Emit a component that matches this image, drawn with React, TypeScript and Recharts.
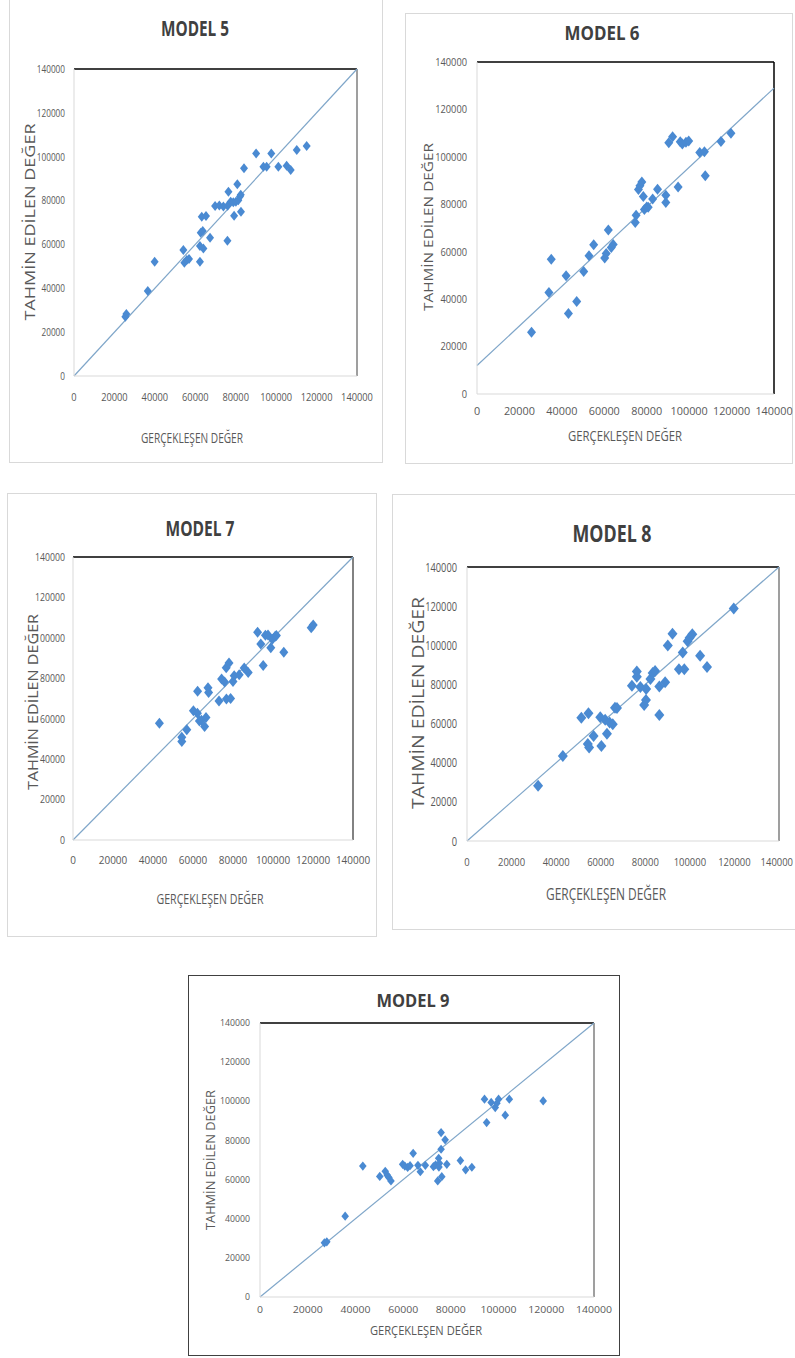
import React from "react";
import { ScatterChart, Scatter, XAxis, YAxis, ReferenceLine } from "recharts";

const TICKS = [0, 20000, 40000, 60000, 80000, 100000, 120000, 140000];
const X_TITLE = "GERÇEKLEŞEN DEĞER";
const Y_TITLE = "TAHMİN EDİLEN DEĞER";
const PAGE_W = 795;

const M5_ACTUAL = [25400, 25900, 36500, 39900, 54100, 54600, 55800, 56900, 62300, 62300, 64000, 62700, 63700, 63200, 65300, 67300, 75900, 69800, 71900, 73900, 76000, 76400, 77500, 78800, 80100, 81300, 82100, 82500, 80800, 79200, 82600, 84100, 90100, 93700, 95300, 97600, 101100, 105200, 107200, 110200, 115100];
const M5_PRED = [27000, 28300, 38800, 52100, 57500, 51700, 52900, 53400, 52100, 59300, 58200, 65300, 66100, 72600, 73000, 63100, 61700, 77500, 77800, 77300, 77600, 84000, 79500, 79200, 79500, 80200, 81800, 82700, 87500, 73100, 74900, 94700, 101500, 95400, 95400, 101500, 95400, 95900, 93900, 103100, 104900];

const M6_ACTUAL = [25700, 33900, 35000, 42000, 43100, 47000, 50300, 52800, 55000, 60200, 60900, 61900, 63300, 64200, 74600, 75000, 76100, 76800, 77700, 78400, 78900, 80000, 80700, 82800, 85100, 89000, 89000, 90400, 92200, 94800, 95800, 96800, 98500, 99800, 105000, 107200, 107600, 115000, 119700];
const M6_PRED = [26000, 42800, 56800, 49900, 33900, 39000, 51700, 58300, 62900, 57300, 59200, 69200, 61800, 63000, 72300, 75400, 86200, 87800, 89400, 83300, 77800, 78900, 78800, 82200, 86300, 83800, 80800, 106000, 108500, 87300, 106400, 105400, 106200, 106700, 101800, 102200, 92000, 106500, 110000];

const M7_ACTUAL = [43200, 54400, 54400, 56900, 60200, 62200, 62300, 63200, 64200, 65800, 66500, 67500, 67800, 73000, 74300, 75800, 76700, 76600, 78000, 78800, 80000, 80600, 83100, 85600, 87600, 92300, 93900, 95100, 96200, 97500, 98900, 99700, 101100, 101700, 105400, 119100, 120100];
const M7_PRED = [57800, 50800, 48700, 54500, 63900, 62700, 73600, 58900, 59300, 56100, 60600, 75300, 73000, 68800, 79700, 78200, 69700, 85200, 87600, 70000, 78400, 81300, 81700, 85100, 82900, 102800, 96900, 86300, 101300, 101400, 95100, 99300, 100800, 101200, 92900, 105000, 106300];

const M8_ACTUAL = [31900, 43000, 51300, 54500, 54200, 54800, 56800, 59800, 60300, 62000, 62800, 64000, 65400, 66400, 67300, 74000, 76200, 76200, 77800, 79500, 80300, 80400, 82300, 83300, 84400, 86300, 86300, 88900, 90100, 92200, 95100, 96800, 97500, 99000, 99900, 101100, 104600, 107700, 119700];
const M8_PRED = [28200, 43400, 63000, 65300, 49600, 47800, 53700, 63200, 48600, 61900, 54800, 60600, 59600, 68100, 67900, 79300, 83900, 86600, 78700, 69500, 72000, 77700, 82800, 85900, 86800, 78900, 64400, 81100, 99900, 105900, 87700, 96300, 87700, 102000, 103900, 105600, 94600, 88900, 118800];

const M9_ACTUAL = [27000, 28000, 35700, 43100, 50200, 52500, 53300, 54000, 54900, 59800, 60700, 61900, 62900, 64200, 66200, 67200, 69300, 72700, 73600, 74500, 74900, 75200, 75000, 75900, 75900, 76200, 77600, 78300, 84000, 86200, 88800, 94100, 95000, 96900, 98600, 99300, 100000, 102800, 104500, 118700];
const M9_PRED = [27700, 28200, 41300, 66900, 61600, 64200, 62300, 61100, 59300, 67800, 66900, 66200, 67100, 73400, 67300, 64000, 67300, 66600, 67500, 59300, 70900, 68300, 66400, 84000, 75500, 61500, 80300, 67800, 69700, 65000, 66300, 101100, 89100, 99400, 96800, 99000, 101100, 92900, 101100, 100200];

// fitted line ends at x = 0 and x = 140000
const FIT_IDENTITY = [0, 140000];
const FIT_6 = [12000, 129000];

type Panel = {
  title: string;
  actual: number[];
  pred: number[];
  fit: number[];
  box: { x: number; y: number; w: number; h: number; stroke: string };
  plot: { l: number; t: number; r: number; b: number };
  tick: { fs: number; xfs: number; xcw: number; ycw: number; yGap: number; xOff: number };
  head: { x: number; y: number; w: number; fs: number };
  xT: { x: number; y: number; w: number; fs: number };
  yT: { x: number; y: number; w: number; fs: number };
  rightStroke: string;
  mk: { hw: number; hh: number };
};

const PANELS: Panel[] = [
  {
    title: "MODEL 5", actual: M5_ACTUAL, pred: M5_PRED, fit: FIT_IDENTITY,
    box: { x: 9, y: -2, w: 374, h: 465, stroke: "#d9d9d9" },
    plot: { l: 74, t: 69, r: 357, b: 376 },
    tick: { fs: 11, xfs: 11, xcw: 5.3, ycw: 4.7, yGap: 9, xOff: 17 },
    head: { x: 195, y: 27, w: 68, fs: 22 },
    xT: { x: 192, y: 437, w: 102, fs: 15 },
    yT: { x: 29, y: 222, w: 197, fs: 14 },
    rightStroke: "#7f7f7f", mk: { hw: 4, hh: 5 },
  },
  {
    title: "MODEL 6", actual: M6_ACTUAL, pred: M6_PRED, fit: FIT_6,
    box: { x: 405, y: 13, w: 388, h: 451, stroke: "#d9d9d9" },
    plot: { l: 477, t: 62, r: 774, b: 394 },
    tick: { fs: 11, xfs: 11, xcw: 6.2, ycw: 5.3, yGap: 10, xOff: 13 },
    head: { x: 602, y: 32, w: 75, fs: 20 },
    xT: { x: 625, y: 435, w: 114, fs: 15 },
    yT: { x: 428, y: 227, w: 168, fs: 13 },
    rightStroke: "#000", mk: { hw: 4.5, hh: 5.5 },
  },
  {
    title: "MODEL 7", actual: M7_ACTUAL, pred: M7_PRED, fit: FIT_IDENTITY,
    box: { x: 7, y: 493, w: 370, h: 444, stroke: "#d9d9d9" },
    plot: { l: 73, t: 557, r: 353, b: 840 },
    tick: { fs: 11, xfs: 11, xcw: 5.7, ycw: 5, yGap: 8, xOff: 16 },
    head: { x: 200, y: 528, w: 69, fs: 21 },
    xT: { x: 210, y: 898, w: 107, fs: 15 },
    yT: { x: 32, y: 702, w: 176, fs: 14 },
    rightStroke: "#595959", mk: { hw: 4.5, hh: 5.5 },
  },
  {
    title: "MODEL 8", actual: M8_ACTUAL, pred: M8_PRED, fit: FIT_IDENTITY,
    box: { x: 392, y: 494, w: 410, h: 436, stroke: "#d9d9d9" },
    plot: { l: 467, t: 567, r: 779, b: 841 },
    tick: { fs: 13, xfs: 11, xcw: 5.4, ycw: 5.3, yGap: 10, xOff: 17 },
    head: { x: 612, y: 532, w: 79, fs: 24 },
    xT: { x: 606, y: 893, w: 120, fs: 17 },
    yT: { x: 418, y: 703, w: 212, fs: 16 },
    rightStroke: "#7f7f7f", mk: { hw: 5, hh: 6 },
  },
  {
    title: "MODEL 9", actual: M9_ACTUAL, pred: M9_PRED, fit: FIT_IDENTITY,
    box: { x: 188, y: 975, w: 432, h: 381, stroke: "#404040" },
    plot: { l: 260, t: 1023, r: 594, b: 1297 },
    tick: { fs: 9, xfs: 9, xcw: 6, ycw: 5, yGap: 10, xOff: 10 },
    head: { x: 413, y: 1000, w: 73, fs: 17 },
    xT: { x: 426, y: 1330, w: 112, fs: 13 },
    yT: { x: 210, y: 1160, w: 140, fs: 12 },
    rightStroke: "#7f7f7f", mk: { hw: 3.8, hh: 4.6 },
  },
];

const FONT = "'Open Sans', 'DejaVu Sans', sans-serif";
const YW = 60;
const XH = 40;
const MT = 12;
const MR = 34;

function AxisTick(props: any) {
  const { x, y, payload, textAnchor, fs, cw, axis, maxRight } = props;
  const label = String(payload.value);
  const len = label.length * cw;
  // keep the last x label inside the page
  let tx = x;
  if (axis === "x" && maxRight != null && tx + len / 2 > maxRight) tx = maxRight - len / 2;
  return (
    <text
      x={tx}
      y={y}
      dy={axis === "x" ? "0.71em" : "0.35em"}
      textAnchor={textAnchor}
      fontSize={fs}
      fontFamily={FONT}
      fill="#595959"
      textLength={len}
      lengthAdjust="spacingAndGlyphs"
    >
      {label}
    </text>
  );
}

function Diamond(props: any) {
  const { cx, cy, hw, hh } = props;
  if (cx == null || cy == null) return null;
  return (
    <polygon
      points={`${cx},${cy - hh} ${cx + hw},${cy} ${cx},${cy + hh} ${cx - hw},${cy}`}
      fill="#4a8ad2"
    />
  );
}

function ModelChart({ p }: { p: Panel }) {
  const data = p.actual.map((a, i) => ({ x: a, y: p.pred[i] }));
  const left = p.plot.l - YW;
  const w = Math.min(p.plot.r - p.plot.l + YW + MR, PAGE_W - left);
  const h = p.plot.b - p.plot.t + MT + XH;
  const maxRight = PAGE_W - 2 - left;
  return (
    <div style={{ position: "absolute", left, top: p.plot.t - MT }}>
      <ScatterChart
        width={w}
        height={h}
        margin={{ top: MT, right: w - (p.plot.r - p.plot.l + YW), bottom: 0, left: 0 }}
      >
        <XAxis
          type="number"
          dataKey="x"
          domain={[0, 140000]}
          ticks={TICKS}
          interval={0}
          height={XH}
          axisLine={{ stroke: "#d9d9d9" }}
          tickLine={false}
          tickSize={0}
          tickMargin={p.tick.xOff}
          tick={(t: any) => (
            <AxisTick {...t} fs={p.tick.xfs} cw={p.tick.xcw} axis="x" maxRight={maxRight} />
          )}
        />
        <YAxis
          type="number"
          dataKey="y"
          domain={[0, 140000]}
          ticks={TICKS}
          interval={0}
          width={YW}
          axisLine={{ stroke: "#d9d9d9" }}
          tickLine={false}
          tickSize={0}
          tickMargin={p.tick.yGap}
          tick={(t: any) => <AxisTick {...t} fs={p.tick.fs} cw={p.tick.ycw} axis="y" />}
        />
        <ReferenceLine y={140000} stroke="#000" strokeWidth={1.5} ifOverflow="visible" />
        <ReferenceLine x={140000} stroke={p.rightStroke} strokeWidth={1.5} ifOverflow="visible" />
        <ReferenceLine
          segment={[
            { x: 0, y: p.fit[0] },
            { x: 140000, y: p.fit[1] },
          ]}
          stroke="#7fa6c9"
          strokeWidth={1.2}
          ifOverflow="visible"
        />
        <Scatter
          data={data}
          isAnimationActive={false}
          shape={(s: any) => <Diamond {...s} hw={p.mk.hw} hh={p.mk.hh} />}
        />
      </ScatterChart>
    </div>
  );
}

export default function App() {
  return (
    <div
      style={{
        position: "absolute",
        left: 0,
        top: 0,
        width: PAGE_W,
        height: 1358,
        background: "#fff",
        overflow: "hidden",
      }}
    >
      {PANELS.map((p) => (
        <div
          key={p.title + "-box"}
          style={{
            position: "absolute",
            left: p.box.x,
            top: p.box.y,
            width: p.box.w,
            height: p.box.h,
            border: `1px solid ${p.box.stroke}`,
            boxSizing: "border-box",
          }}
        />
      ))}
      {PANELS.map((p) => (
        <ModelChart key={p.title} p={p} />
      ))}
      <svg
        width={PAGE_W}
        height={1358}
        style={{ position: "absolute", left: 0, top: 0, pointerEvents: "none" }}
      >
        {PANELS.map((p) => (
          <g key={p.title + "-text"} fontFamily={FONT}>
            <text
              x={p.head.x}
              y={p.head.y}
              textAnchor="middle"
              dominantBaseline="central"
              fontSize={p.head.fs}
              fontWeight={700}
              fill="#404040"
              textLength={p.head.w}
              lengthAdjust="spacingAndGlyphs"
            >
              {p.title}
            </text>
            <text
              x={p.xT.x}
              y={p.xT.y}
              textAnchor="middle"
              dominantBaseline="central"
              fontSize={p.xT.fs}
              fill="#595959"
              textLength={p.xT.w}
              lengthAdjust="spacingAndGlyphs"
            >
              {X_TITLE}
            </text>
            <text
              x={p.yT.x}
              y={p.yT.y}
              textAnchor="middle"
              dominantBaseline="central"
              fontSize={p.yT.fs}
              fill="#595959"
              textLength={p.yT.w}
              lengthAdjust="spacingAndGlyphs"
              transform={`rotate(-90 ${p.yT.x} ${p.yT.y})`}
            >
              {Y_TITLE}
            </text>
          </g>
        ))}
      </svg>
    </div>
  );
}
